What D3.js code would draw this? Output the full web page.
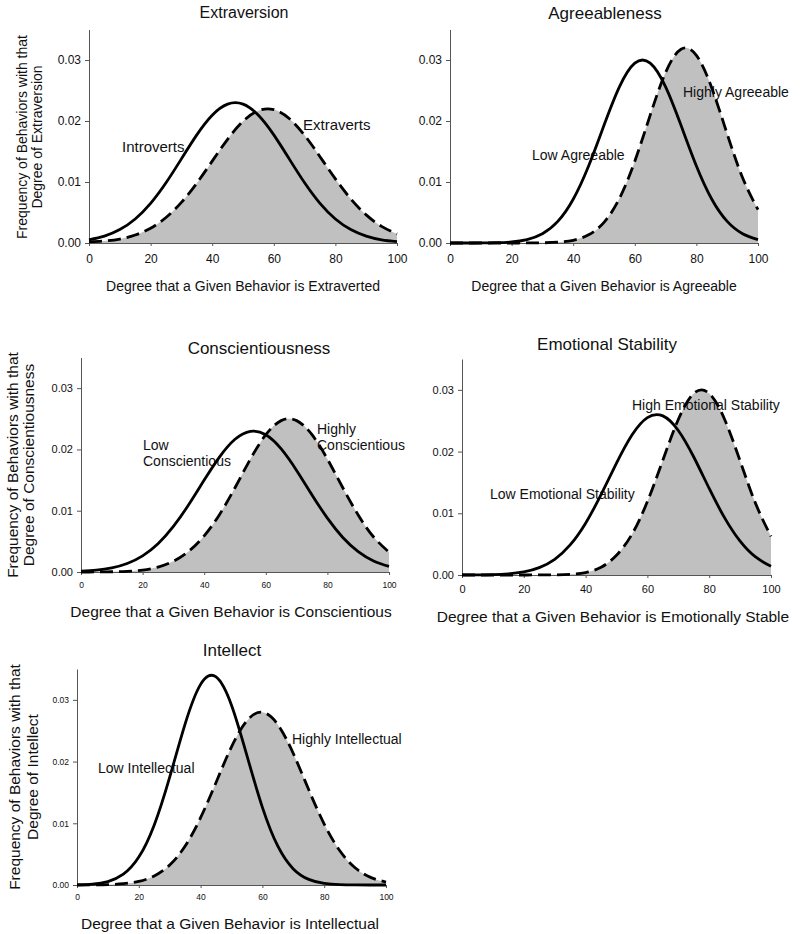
<!DOCTYPE html>
<html>
<head>
<meta charset="utf-8">
<script src="https://cdn.jsdelivr.net/npm/d3@7"></script>
<style>
  html, body { margin: 0; padding: 0; background: #fff; }
  svg { display: block; font-family: "Liberation Sans", Arial, Helvetica, sans-serif; }
</style>
</head>
<body>
<svg id="chart" width="800" height="934"></svg>
<script>
// ---------------- DATA ----------------
const degrees = [0, 5, 10, 15, 20, 25, 30, 35, 40, 45, 50, 55, 60, 65, 70, 75, 80, 85, 90, 95, 100];

const introverts = [0.00053, 0.00113, 0.00220, 0.00394, 0.00650, 0.00987, 0.01379, 0.01772, 0.02094, 0.02276, 0.02276,
  0.02094, 0.01772, 0.01379, 0.00987, 0.00650, 0.00394, 0.00220, 0.00113, 0.00053, 0.00023];
const extraverts = [0.00020, 0.00034, 0.00065, 0.00131, 0.00243, 0.00418, 0.00665, 0.00981, 0.01342, 0.01700, 0.01995,
  0.02170, 0.02187, 0.02041, 0.01766, 0.01415, 0.01051, 0.00723, 0.00461, 0.00272, 0.00149];

const lowAgreeable = [0.00000, 0.00000, 0.00001, 0.00005, 0.00018, 0.00056, 0.00152, 0.00354, 0.00717, 0.01262, 0.01929,
  0.02559, 0.02948, 0.02948, 0.02559, 0.01929, 0.01262, 0.00717, 0.00354, 0.00152, 0.00056];
const highAgreeable = [0.00000, 0.00000, 0.00000, 0.00000, 0.00000, 0.00001, 0.00003, 0.00013, 0.00045, 0.00134, 0.00338,
  0.00729, 0.01339, 0.02096, 0.02795, 0.03177, 0.03077, 0.02540, 0.01786, 0.01070, 0.00547];

const lowConscientious = [0.00012, 0.00030, 0.00067, 0.00139, 0.00264, 0.00462, 0.00744, 0.01101, 0.01500, 0.01879, 0.02166,
  0.02296, 0.02239, 0.02009, 0.01658, 0.01258, 0.00879, 0.00564, 0.00333, 0.00181, 0.00091];
const highConscientious = [0.00000, 0.00001, 0.00004, 0.00011, 0.00031, 0.00080, 0.00175, 0.00340, 0.00590, 0.00940, 0.01375,
  0.01843, 0.02240, 0.02470, 0.02470, 0.02240, 0.01843, 0.01375, 0.00930, 0.00571, 0.00325];

const lowStability = [0.00001, 0.00002, 0.00006, 0.00019, 0.00050, 0.00119, 0.00254, 0.00487, 0.00840, 0.01302, 0.01812,
  0.02268, 0.02551, 0.02578, 0.02342, 0.01912, 0.01402, 0.00925, 0.00548, 0.00292, 0.00140];
const highStability = [0.00000, 0.00000, 0.00000, 0.00000, 0.00000, 0.00001, 0.00003, 0.00011, 0.00040, 0.00125, 0.00320,
  0.00660, 0.01190, 0.01860, 0.02520, 0.02942, 0.02942, 0.02520, 0.01848, 0.01161, 0.00625];

const lowIntellectual = [0.00003, 0.00015, 0.00056, 0.00175, 0.00452, 0.00974, 0.01748, 0.02612, 0.03251, 0.03372, 0.02914,
  0.02097, 0.01258, 0.00628, 0.00261, 0.00091, 0.00026, 0.00006, 0.00001, 0.00000, 0.00000];
const highIntellectual = [0.00000, 0.00002, 0.00006, 0.00021, 0.00058, 0.00146, 0.00324, 0.00632, 0.01091, 0.01662, 0.02239,
  0.02663, 0.02798, 0.02598, 0.02130, 0.01543, 0.00988, 0.00558, 0.00279, 0.00123, 0.00048];

const xTicks = [0, 20, 40, 60, 80, 100];
const yTicks = [0, 0.01, 0.02, 0.03];

const titles = ["Extraversion", "Agreeableness", "Conscientiousness", "Emotional Stability", "Intellect"];
const xTitles = [
  "Degree that a Given Behavior is Extraverted",
  "Degree that a Given Behavior is Agreeable",
  "Degree that a Given Behavior is Conscientious",
  "Degree that a Given Behavior is Emotionally Stable",
  "Degree that a Given Behavior is Intellectual"
];
const yTitles = [
  ["Frequency of Behaviors with that", "Degree of Extraversion"],
  null,
  ["Frequency of Behaviors with that", "Degree of Conscientiousness"],
  null,
  ["Frequency of Behaviors with that", "Degree of Intellect"]
];
const lowLabels = [["Introverts"], ["Low Agreeable"], ["Low", "Conscientious"], ["Low Emotional Stability"], ["Low Intellectual"]];
const highLabels = [["Extraverts"], ["Highly Agreeable"], ["Highly", "Conscientious"], ["High Emotional Stability"], ["Highly Intellectual"]];
const lowSeries = [introverts, lowAgreeable, lowConscientious, lowStability, lowIntellectual];
const highSeries = [extraverts, highAgreeable, highConscientious, highStability, highIntellectual];

// ---------------- LAYOUT ----------------
const layout = [
  { x0: 89, x1: 397, y0: 243, yTop: 29.5, titleX: 244, titleY: 18, titleFs: 16, xtFs: 12, ytFs: 12, xtOff: 20,
    xTitleX: 243, xTitleY: 291, xTitleFs: 14, yTitleX: [22, 37], yTitleY: 137, yTitleFs: 14,
    labFs: 15, lowPos: [122, 147], highPos: [303, 125], lineGap: 16 },
  { x0: 450, x1: 758, y0: 243, yTop: 29.5, titleX: 605, titleY: 19, titleFs: 17, xtFs: 12, ytFs: 12, xtOff: 20,
    xTitleX: 604, xTitleY: 291, xTitleFs: 14, labFs: 14, lowPos: [532, 155], highPos: [683, 92], lineGap: 16 },
  { x0: 81, x1: 389, y0: 572, yTop: 357.5, titleX: 259, titleY: 354, titleFs: 17, xtFs: 8.5, ytFs: 11, xtOff: 16,
    xTitleX: 231, xTitleY: 617, xTitleFs: 15.5, yTitleX: [13, 29], yTitleY: 465, yTitleFs: 15.5,
    labFs: 14, lowPos: [143, 445], highPos: [317, 429], lineGap: 16 },
  { x0: 462, x1: 771, y0: 575, yTop: 359, titleX: 607, titleY: 350, titleFs: 17, xtFs: 11, ytFs: 11, xtOff: 18,
    xTitleX: 613, xTitleY: 622, xTitleFs: 15.5, labFs: 14, lowPos: [490, 494], highPos: [632, 405], lineGap: 16 },
  { x0: 77, x1: 386, y0: 885, yTop: 669, titleX: 232, titleY: 656, titleFs: 17, xtFs: 8.5, ytFs: 8.5, xtOff: 15,
    xTitleX: 230, xTitleY: 929, xTitleFs: 15.5, yTitleX: [15, 33], yTitleY: 777, yTitleFs: 15.5,
    labFs: 14, lowPos: [98, 768], highPos: [292, 739], lineGap: 16 }
];

const svg = d3.select("#chart");
const TEXT = "#111";
const AXIS = "#555";

layout.forEach((L, i) => {
  const x = d3.scaleLinear().domain([0, 100]).range([L.x0, L.x1]);
  const y = d3.scaleLinear().domain([0, 0.035]).range([L.y0, L.yTop]);
  const g = svg.append("g");

  const low = degrees.map((d, k) => [d, lowSeries[i][k]]);
  const high = degrees.map((d, k) => [d, highSeries[i][k]]);
  const curve = d3.curveNatural;

  // fill under the high (dashed) curve
  g.append("path")
    .datum(high)
    .attr("fill", "#c0c0c0")
    .attr("d", d3.area().x(d => x(d[0])).y0(y(0)).y1(d => Math.min(y(0), y(d[1]))).curve(curve));

  // axes
  const yAxis = d3.axisLeft(y).tickValues(yTicks).tickFormat(d3.format(".2f")).tickSizeInner(4).tickSizeOuter(0).tickPadding(4);
  const ya = g.append("g").attr("transform", `translate(${L.x0},0)`).call(yAxis);
  ya.select(".domain").attr("stroke", AXIS);
  ya.selectAll(".tick line").attr("stroke", AXIS);
  ya.selectAll(".tick text").attr("fill", TEXT).style("font-size", L.ytFs + "px")
    .style("font-family", "'Liberation Sans', Arial, sans-serif");

  const xAxis = d3.axisBottom(x).tickValues(xTicks).tickFormat(d3.format("d")).tickSizeInner(3).tickSizeOuter(0);
  const xa = g.append("g").attr("transform", `translate(0,${L.y0})`).call(xAxis);
  xa.select(".domain").attr("stroke", AXIS);
  xa.selectAll(".tick line").attr("stroke", AXIS);
  xa.selectAll(".tick text").attr("fill", TEXT).attr("y", L.xtOff).attr("dy", null)
    .style("font-size", L.xtFs + "px").style("font-family", "'Liberation Sans', Arial, sans-serif");

  // curve labels (drawn under the lines)
  const addLabel = (lines, pos) => {
    lines.forEach((t, j) => {
      g.append("text")
        .attr("x", pos[0])
        .attr("y", pos[1] + j * L.lineGap + L.labFs * 0.35)
        .attr("fill", TEXT)
        .style("font-size", L.labFs + "px")
        .text(t);
    });
  };
  addLabel(lowLabels[i], L.lowPos);
  addLabel(highLabels[i], L.highPos);

  const line = d3.line().x(d => x(d[0])).y(d => y(d[1])).curve(curve);
  g.append("path").datum(high)
    .attr("fill", "none").attr("stroke", "#000").attr("stroke-width", 2.8)
    .attr("stroke-dasharray", "13,6").attr("d", line);
  g.append("path").datum(low)
    .attr("fill", "none").attr("stroke", "#000").attr("stroke-width", 2.8).attr("d", line);

  // titles
  g.append("text").attr("x", L.titleX).attr("y", L.titleY).attr("text-anchor", "middle")
    .attr("fill", TEXT).style("font-size", L.titleFs + "px").text(titles[i]);
  g.append("text").attr("x", L.xTitleX).attr("y", L.xTitleY).attr("text-anchor", "middle")
    .attr("fill", TEXT).style("font-size", L.xTitleFs + "px").text(xTitles[i]);
  if (yTitles[i]) {
    yTitles[i].forEach((t, j) => {
      const cx = L.yTitleX[j] + L.yTitleFs * 0.35;
      g.append("text")
        .attr("transform", `translate(${cx},${L.yTitleY}) rotate(-90)`)
        .attr("text-anchor", "middle")
        .attr("fill", TEXT)
        .style("font-size", L.yTitleFs + "px")
        .text(t);
    });
  }
});
</script>
</body>
</html>
